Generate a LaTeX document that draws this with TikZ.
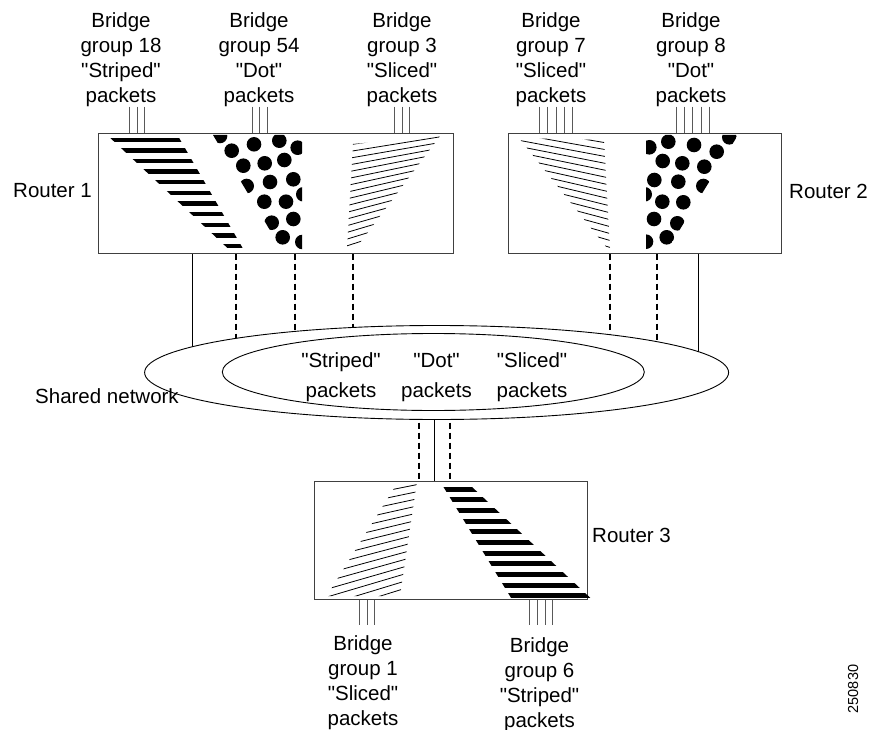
\documentclass[tikz,border=0pt]{standalone}
\usepackage{fontspec}
\setmainfont{Liberation Sans}[Ligatures=TeXOff]
\usepackage{tikz}
\usetikzlibrary{shapes.geometric}
\pgfdeclarelayer{background}
\pgfsetlayers{background,main}

\begin{document}
\begin{tikzpicture}[x=1pt, y=-1pt,
    router/.style={draw=black!75, line width=1pt, fill=white, inner sep=0pt},
    lan/.style={draw, ellipse, line width=0.9pt, fill=white, inner sep=0pt},
    lbl/.style={font=\fontsize{20.5}{25}\selectfont, align=center, inner sep=0pt},
    kind/.style={lbl, anchor=north, font=\fontsize{20.5}{30}\selectfont},
    feed/.style={black!65, line width=0.7pt},
    trunk/.style={line width=0.9pt},
    vlan/.style={line width=2pt, dash pattern=on 6pt off 4pt},
    hatch/.style={line width=0.8pt}]
    \useasboundingbox (0,0) rectangle (872,730);

    % Routers
    \node[router, minimum width=355pt, minimum height=119pt] (r1) at (275.5,193.5) {};
    \node[router, minimum width=273pt, minimum height=119pt] (r2) at (644.5,193.5) {};
    \node[router, minimum width=273pt, minimum height=118pt] (r3) at (450.5,540) {};

    % Shared network
    \node[lan, minimum width=584pt, minimum height=94pt] (net) at (436.6,372.5) {};
    \node[lan, minimum width=422pt, minimum height=77pt] (pool) at (433.3,372) {};

    % Labels
    \node[lbl, anchor=north] (bg18) at (121,12) {Bridge\\group 18\\"Striped"\\packets};
    \node[lbl, anchor=north] (bg54) at (259,12) {Bridge\\group 54\\"Dot"\\packets};
    \node[lbl, anchor=north] (bg3) at (402,12) {Bridge\\group 3\\"Sliced"\\packets};
    \node[lbl, anchor=north] (bg7) at (551,12) {Bridge\\group 7\\"Sliced"\\packets};
    \node[lbl, anchor=north] (bg8) at (691,12) {Bridge\\group 8\\"Dot"\\packets};
    \node[lbl, anchor=north] (bg1) at (363,635) {Bridge\\group 1\\"Sliced"\\packets};
    \node[lbl, anchor=north] (bg6) at (539.5,637) {Bridge\\group 6\\"Striped"\\packets};

    \node[lbl, anchor=base west] (r1lbl) at (13,197) {Router 1};
    \node[lbl, anchor=base west] (r2lbl) at (789,198) {Router 2};
    \node[lbl, anchor=base west] (r3lbl) at (592,542) {Router 3};
    \node[lbl, anchor=base west] (netlbl) at (35,403) {Shared network};

    \node[kind] (striped) at (341,352) {"Striped"\\packets};
    \node[kind] (dot) at (436.5,352) {\vphantom{Sd}"Dot"\\packets};
    \node[kind] (sliced) at (532,352) {"Sliced"\\packets};

    \node[rotate=90, inner sep=0pt, font=\fontsize{14.5}{17}\selectfont] (fig) at (853,689) {250830};

    % Bridge group ports
    \foreach \x in {129,137,144} \draw[feed] (bg18.south -| \x,0) -- (r1.north -| \x,0);
    \foreach \x in {252,259,267} \draw[feed] (bg54.south -| \x,0) -- (r1.north -| \x,0);
    \foreach \x in {394,402,409} \draw[feed] (bg3.south -| \x,0) -- (r1.north -| \x,0);
    \foreach \x in {539,547,556,564,572} \draw[feed] (bg7.south -| \x,0) -- (r2.north -| \x,0);
    \foreach \x in {676,684,692,701,709} \draw[feed] (bg8.south -| \x,0) -- (r2.north -| \x,0);
    \foreach \x in {359,367,374} \draw[feed, shorten >=10pt] (r3.south -| \x,0) -- (bg1.north -| \x,0);
    \foreach \x in {529,537,545,552} \draw[feed, shorten >=12pt] (r3.south -| \x,0) -- (bg6.north -| \x,0);

    % Links to the shared network
    \begin{pgfonlayer}{background}
    \draw[trunk] (r1.south -| 192,0) -- (net.center -| 192,0);
    \foreach \x in {236,295,353} \draw[vlan] (r1.south -| \x,0) -- (net.center -| \x,0);
    \foreach \x in {610,657} \draw[vlan] (r2.south -| \x,0) -- (net.center -| \x,0);
    \draw[trunk] (r2.south -| 698,0) -- (net.center -| 698,0);
    \draw[trunk] (net.center -| 434,0) -- (r3.north -| 434,0);
    \foreach \x in {418.6,450} \draw[vlan] (net.center -| \x,0) -- (r3.north -| \x,0);
    \end{pgfonlayer}

    % Router 1 traffic
    \begin{scope}
    \clip (110,137.7) -- (179,137.7) -- (243.5,249.5) -- (229,249.5) -- cycle;
    \foreach \k in {0,...,10}
        \fill (100,{137.7+10.6*\k}) rectangle (260,{142.1+10.6*\k});
    \end{scope}
    \begin{scope}
    \clip (213,135) -- (302,135) -- (302,252) -- (283,252) -- cycle;
    \foreach \p in {(220,136),(254,144.3),(279.3,140.7),(297.7,147.7),(231.7,150.7),
        (243.3,165.7),(264.7,163.3),(284.3,160),(246.7,186),(270,182),(293.3,179.3),
        (303.3,194.3),(264.3,201.7),(286,201.7),(271.7,222.7),(293.3,219),
        (282.7,237.3),(302.3,242)}
        \fill \p circle (7.3pt);
    \end{scope}
    \begin{scope}
    \clip (353,144) -- (440,136) -- (356,248) -- (347,248) -- cycle;
    \foreach \k in {0,...,15}{
        \pgfmathsetmacro\s{0.15+0.17*\k/15}
        \draw[hatch] (340,{145+6.7*\k+8*\s}) -- (445,{145+6.7*\k-97*\s});
    }
    \end{scope}

    % Router 2 traffic
    \begin{scope}
    \clip (519,138) -- (604,140) -- (610,248) -- (607,248) -- cycle;
    \foreach \k in {0,...,15}{
        \pgfmathsetmacro\s{0.17+0.13*\k/15}
        \draw[hatch] (510,{143+6.9*\k-97*\s}) -- (615,{143+6.9*\k+8*\s});
    }
    \end{scope}
    \begin{scope}
    \clip (646,135) -- (738,135) -- (666,252) -- (646,252) -- cycle;
    \foreach \p in {(649.3,147.3),(668.3,141.7),(694,145),(729.3,137.3),(716.7,151.7),
        (662.7,161),(682.3,163.3),(704.3,166.7),(654.3,180),(678.3,181.7),(703.3,186),
        (644.7,194.3),(662.3,201.7),(683.3,202.3),(654,219),(677.3,223.3),
        (646,241.7),(666.7,237.3)}
        \fill \p circle (7.3pt);
    \end{scope}

    % Router 3 traffic
    \begin{scope}
    \clip (396.7,484) -- (417,481.5) -- (400,596) -- (326.7,596) -- cycle;
    \foreach \k in {0,...,15}{
        \pgfmathsetmacro\s{0.2+0.12*\k/15}
        \draw[hatch] (320,{486+7.2*\k+90*\s}) -- (425,{486+7.2*\k-15*\s});
    }
    \end{scope}
    \begin{scope}
    \clip (443.3,486.7) -- (471.7,486.7) -- (591,598.5) -- (511.4,598.5) -- cycle;
    \foreach \k in {0,...,10}
        \fill (430,{486.7+10.67*\k}) rectangle (600,{491.7+10.67*\k});
    \end{scope}
\end{tikzpicture}
\end{document}
